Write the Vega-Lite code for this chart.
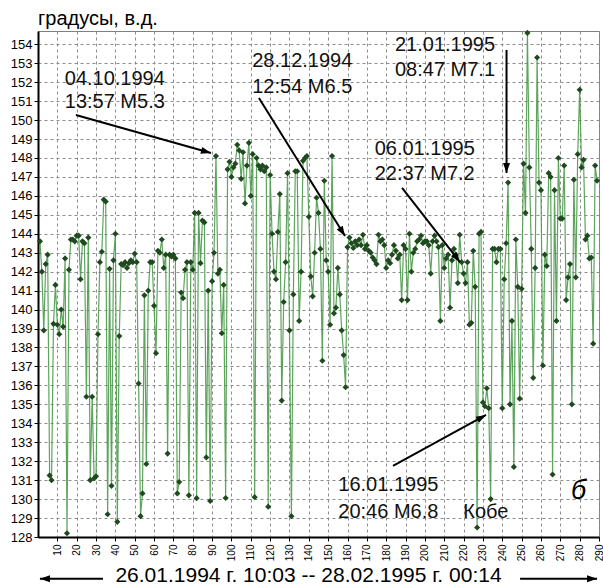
{
  "$schema": "https://vega.github.io/schema/vega-lite/v6.json",
  "width": 561,
  "height": 506,
  "autosize": {"type": "none"},
  "padding": {"left": 38, "top": 31, "right": 4, "bottom": 48},
  "background": "#ffffff",
  "title": {"text": "градусы, в.д.", "anchor": "start", "frame": "group", "fontSize": 20, "fontWeight": "normal", "baseline": "alphabetic", "offset": 4, "dy": 19, "color": "#000000"},
  "datasets": {
    "series": [
      {"x":1,"v":143.6},{"x":2,"v":142.0},{"x":3,"v":138.9},{"x":4,"v":142.4},{"x":5,"v":142.9},{"x":6,"v":131.25},{"x":7,"v":131.0},{"x":8,"v":139.25},{"x":9,"v":141.3},{"x":10,"v":139.2},
      {"x":11,"v":138.7},{"x":12,"v":140.0},{"x":13,"v":139.1},{"x":14,"v":142.7},{"x":15,"v":128.2},{"x":16,"v":142.1},{"x":17,"v":143.7},{"x":18,"v":143.7},{"x":19,"v":143.6},{"x":20,"v":143.9},
      {"x":21,"v":143.9},{"x":22,"v":141.6},{"x":23,"v":143.6},{"x":24,"v":143.5},{"x":25,"v":135.4},{"x":26,"v":143.8},{"x":27,"v":131.0},{"x":28,"v":135.4},{"x":29,"v":131.1},{"x":30,"v":131.2},
      {"x":31,"v":138.7},{"x":32,"v":142.5},{"x":33,"v":143.05},{"x":34,"v":145.8},{"x":35,"v":145.7},{"x":36,"v":129.2},{"x":37,"v":142.15},{"x":38,"v":130.7},{"x":39,"v":142.6},{"x":40,"v":144.0},
      {"x":41,"v":128.8},{"x":42,"v":138.6},{"x":43,"v":142.4},{"x":44,"v":142.35},{"x":45,"v":142.5},{"x":46,"v":142.2},{"x":47,"v":142.45},{"x":48,"v":142.6},{"x":49,"v":142.5},{"x":50,"v":142.95},
      {"x":51,"v":142.5},{"x":52,"v":136.1},{"x":53,"v":129.1},{"x":54,"v":130.3},{"x":55,"v":140.75},{"x":56,"v":131.85},{"x":57,"v":141.0},{"x":58,"v":142.5},{"x":59,"v":142.5},{"x":60,"v":140.2},
      {"x":61,"v":137.7},{"x":62,"v":143.1},{"x":63,"v":143.0},{"x":64,"v":143.7},{"x":65,"v":142.2},{"x":66,"v":142.9},{"x":67,"v":132.4},{"x":68,"v":142.9},{"x":69,"v":142.8},{"x":70,"v":142.9},
      {"x":71,"v":142.7},{"x":72,"v":130.3},{"x":73,"v":130.9},{"x":74,"v":140.9},{"x":75,"v":140.6},{"x":76,"v":142.1},{"x":77,"v":142.5},{"x":78,"v":130.2},{"x":79,"v":142.5},{"x":80,"v":142.1},
      {"x":81,"v":145.1},{"x":82,"v":130.05},{"x":83,"v":145.1},{"x":84,"v":142.45},{"x":85,"v":144.7},{"x":86,"v":144.6},{"x":87,"v":132.2},{"x":88,"v":141.0},{"x":89,"v":129.9},{"x":90,"v":141.5},
      {"x":91,"v":143.0},{"x":92,"v":148.1},{"x":93,"v":141.9},{"x":94,"v":142.1},{"x":95,"v":138.75},{"x":96,"v":141.3},{"x":97,"v":130.06},{"x":98,"v":147.4},{"x":99,"v":147.8},{"x":100,"v":147.0},
      {"x":101,"v":147.5},{"x":102,"v":147.7},{"x":103,"v":148.7},{"x":104,"v":148.4},{"x":105,"v":146.9},{"x":106,"v":148.3},{"x":107,"v":145.6},{"x":108,"v":147.6},{"x":109,"v":148.8},{"x":110,"v":146.0},
      {"x":111,"v":148.2},{"x":112,"v":130.1},{"x":113,"v":148.0},{"x":114,"v":147.6},{"x":115,"v":147.4},{"x":116,"v":147.6},{"x":117,"v":147.3},{"x":118,"v":147.5},{"x":119,"v":129.6},{"x":120,"v":147.1},
      {"x":121,"v":144.0},{"x":122,"v":142.0},{"x":123,"v":141.6},{"x":124,"v":144.1},{"x":125,"v":146.1},{"x":126,"v":135.2},{"x":127,"v":140.4},{"x":128,"v":142.5},{"x":129,"v":147.2},{"x":130,"v":138.9},
      {"x":131,"v":129.1},{"x":132,"v":140.8},{"x":133,"v":147.3},{"x":134,"v":147.3},{"x":135,"v":139.4},{"x":136,"v":142.0},{"x":137,"v":147.85},{"x":138,"v":148.0},{"x":139,"v":148.1},{"x":140,"v":144.9},
      {"x":141,"v":141.75},{"x":142,"v":140.7},{"x":143,"v":143.0},{"x":144,"v":145.9},{"x":145,"v":145.1},{"x":146,"v":143.2},{"x":147,"v":137.3},{"x":148,"v":146.8},{"x":149,"v":142.6},{"x":150,"v":142.0},
      {"x":151,"v":139.2},{"x":152,"v":148.1},{"x":153,"v":139.8},{"x":154,"v":140.1},{"x":155,"v":142.2},{"x":156,"v":140.8},{"x":157,"v":138.9},{"x":158,"v":137.6},{"x":159,"v":135.9},{"x":160,"v":143.3},
      {"x":161,"v":143.8},{"x":162,"v":143.5},{"x":163,"v":143.25},{"x":164,"v":143.6},{"x":165,"v":143.4},{"x":166,"v":143.7},{"x":167,"v":143.4},{"x":168,"v":143.95},{"x":169,"v":143.2},{"x":170,"v":143.4},
      {"x":171,"v":143.1},{"x":172,"v":143.0},{"x":173,"v":142.75},{"x":174,"v":142.6},{"x":175,"v":142.4},{"x":176,"v":143.95},{"x":177,"v":143.6},{"x":178,"v":143.7},{"x":179,"v":143.4},{"x":180,"v":142.2},
      {"x":181,"v":142.6},{"x":182,"v":142.45},{"x":183,"v":142.9},{"x":184,"v":143.4},{"x":185,"v":143.1},{"x":186,"v":142.7},{"x":187,"v":142.9},{"x":188,"v":140.5},{"x":189,"v":143.4},{"x":190,"v":143.2},
      {"x":191,"v":140.5},{"x":192,"v":144.0},{"x":193,"v":142.0},{"x":194,"v":143.0},{"x":195,"v":143.2},{"x":196,"v":143.6},{"x":197,"v":143.7},{"x":198,"v":143.9},{"x":199,"v":143.5},{"x":200,"v":143.6},
      {"x":201,"v":143.6},{"x":202,"v":143.4},{"x":203,"v":141.9},{"x":204,"v":143.6},{"x":205,"v":143.9},{"x":206,"v":143.6},{"x":207,"v":143.3},{"x":208,"v":139.4},{"x":209,"v":143.4},{"x":210,"v":142.2},
      {"x":211,"v":142.7},{"x":212,"v":142.9},{"x":213,"v":140.1},{"x":214,"v":142.6},{"x":215,"v":143.2},{"x":216,"v":142.9},{"x":217,"v":141.4},{"x":218,"v":143.95},{"x":219,"v":142.5},{"x":220,"v":141.9},
      {"x":221,"v":141.4},{"x":222,"v":142.5},{"x":223,"v":139.2},{"x":224,"v":139.3},{"x":225,"v":143.1},{"x":226,"v":141.2},{"x":227,"v":128.5},{"x":228,"v":144.0},{"x":229,"v":144.1},{"x":230,"v":135.1},
      {"x":231,"v":134.9},{"x":232,"v":135.85},{"x":233,"v":134.8},{"x":234,"v":130.0},{"x":235,"v":143.2},{"x":236,"v":143.2},{"x":237,"v":142.5},{"x":238,"v":143.2},{"x":239,"v":143.2},{"x":240,"v":134.8},
      {"x":241,"v":141.6},{"x":242,"v":143.5},{"x":243,"v":146.7},{"x":244,"v":135.0},{"x":245,"v":139.4},{"x":246,"v":131.7},{"x":247,"v":143.7},{"x":248,"v":141.2},{"x":249,"v":135.3},{"x":250,"v":141.1},
      {"x":251,"v":147.7},{"x":252,"v":145.1},{"x":253,"v":154.6},{"x":254,"v":147.5},{"x":255,"v":143.2},{"x":256,"v":136.4},{"x":257,"v":142.2},{"x":258,"v":153.3},{"x":259,"v":146.7},{"x":260,"v":146.3},
      {"x":261,"v":137.05},{"x":262,"v":142.9},{"x":263,"v":142.3},{"x":264,"v":147.2},{"x":265,"v":147.0},{"x":266,"v":131.3},{"x":267,"v":146.3},{"x":268,"v":139.4},{"x":269,"v":148.0},{"x":270,"v":144.8},
      {"x":271,"v":144.8},{"x":272,"v":147.6},{"x":273,"v":140.5},{"x":274,"v":141.7},{"x":275,"v":142.4},{"x":276,"v":135.0},{"x":277,"v":146.85},{"x":278,"v":141.7},{"x":279,"v":148.2},{"x":280,"v":151.6},
      {"x":281,"v":147.5},{"x":282,"v":147.9},{"x":283,"v":143.7},{"x":284,"v":143.9},{"x":285,"v":142.7},{"x":286,"v":142.75},{"x":287,"v":138.2},{"x":288,"v":147.6},{"x":289,"v":146.8}
    ],
    "notes": [
      {"x":39.7,"y":152.19,"t":"04.10.1994"},
      {"x":39.7,"y":150.93,"t":"13:57 M5.3"},
      {"x":136.6,"y":153.12,"t":"28.12.1994"},
      {"x":136.6,"y":151.75,"t":"12:54 M6.5"},
      {"x":210.4,"y":153.96,"t":"21.01.1995"},
      {"x":210.4,"y":152.64,"t":"08:47 M7.1"},
      {"x":199.9,"y":148.45,"t":"06.01.1995"},
      {"x":199.9,"y":147.13,"t":"22:37 M7.2"},
      {"x":181.1,"y":130.74,"t":"16.01.1995"},
      {"x":181.1,"y":129.32,"t":"20:46 M6.8"},
      {"x":231.5,"y":129.32,"t":"Кобе"}
    ],
    "arrows": [
      {"id":1,"x0":19.6,"y0":150.27,"x1":89.4,"y1":148.26},
      {"id":2,"x0":114.2,"y0":151.16,"x1":158.7,"y1":143.88},
      {"id":3,"x0":242.2,"y0":153.7,"x1":242.2,"y1":147.21},
      {"id":4,"x0":188.2,"y0":146.42,"x1":218.1,"y1":142.51},
      {"id":5,"x0":183.5,"y0":131.75,"x1":231.6,"y1":134.44},
      {"id":6,"x0":33.6,"y0":125.8,"x1":1.0,"y1":125.8},
      {"id":7,"x0":249.2,"y0":125.8,"x1":289.0,"y1":125.8}
    ]
  },
  "encoding": {
    "x": {"type": "quantitative", "scale": {"domain": [0, 290], "nice": false, "zero": false}, "axis": {
      "values": [10,20,30,40,50,60,70,80,90,100,110,120,130,140,150,160,170,180,190,200,210,220,230,240,250,260,270,280,290],
      "labelAngle": -90, "labelFontSize": 10, "labelPadding": 3, "labelFlush": false, "labelOverlap": false,
      "tickSize": 4,
      "title": "26.01.1994 г. 10:03 -- 28.02.1995 г. 00:14",
      "titleFontSize": 21, "titleFontWeight": "normal", "titleX": 270, "titleY": 38,
      "titleAlign": "center", "titleBaseline": "middle", "titleAngle": 0
    }},
    "y": {"type": "quantitative", "scale": {"domain": [128, 154.7], "nice": false, "zero": false}, "axis": {
      "values": [128,129,130,131,132,133,134,135,136,137,138,139,140,141,142,143,144,145,146,147,148,149,150,151,152,153,154],
      "labelFontSize": 13, "labelPadding": 2, "labelFlush": false, "labelOverlap": false, "tickSize": 4, "title": null
    }}
  },
  "layer": [
    {
      "data": {"name": "series"},
      "mark": {"type": "line", "color": "#4b9a4b", "strokeWidth": 1.2, "opacity": 0.9},
      "encoding": {"x": {"field": "x", "type": "quantitative"}, "y": {"field": "v", "type": "quantitative"}}
    },
    {
      "data": {"name": "series"},
      "mark": {"type": "point", "shape": "diamond", "filled": true, "color": "#1f4a1f", "size": 38, "opacity": 1},
      "encoding": {"x": {"field": "x", "type": "quantitative"}, "y": {"field": "v", "type": "quantitative"}}
    },
    {
      "data": {"name": "arrows"},
      "mark": {"type": "rule", "color": "#000000", "strokeWidth": 2, "clip": false},
      "encoding": {
        "x": {"field": "x0", "type": "quantitative"}, "y": {"field": "y0", "type": "quantitative"},
        "x2": {"field": "x1"}, "y2": {"field": "y1"}
      }
    },
    {
      "data": {"name": "arrows"},
      "transform": [{"filter": "datum.id == 1"}],
      "mark": {"type": "point", "shape": "M0,0 L0.7,2 L-0.7,2 Z", "filled": true, "color": "#000000", "size": 100, "opacity": 1, "angle": 105.7, "clip": false},
      "encoding": {"x": {"field": "x1", "type": "quantitative"}, "y": {"field": "y1", "type": "quantitative"}}
    },
    {
      "data": {"name": "arrows"},
      "transform": [{"filter": "datum.id == 2"}],
      "mark": {"type": "point", "shape": "M0,0 L0.7,2 L-0.7,2 Z", "filled": true, "color": "#000000", "size": 100, "opacity": 1, "angle": 148.1, "clip": false},
      "encoding": {"x": {"field": "x1", "type": "quantitative"}, "y": {"field": "y1", "type": "quantitative"}}
    },
    {
      "data": {"name": "arrows"},
      "transform": [{"filter": "datum.id == 3"}],
      "mark": {"type": "point", "shape": "M0,0 L0.7,2 L-0.7,2 Z", "filled": true, "color": "#000000", "size": 100, "opacity": 1, "angle": 180, "clip": false},
      "encoding": {"x": {"field": "x1", "type": "quantitative"}, "y": {"field": "y1", "type": "quantitative"}}
    },
    {
      "data": {"name": "arrows"},
      "transform": [{"filter": "datum.id == 4"}],
      "mark": {"type": "point", "shape": "M0,0 L0.7,2 L-0.7,2 Z", "filled": true, "color": "#000000", "size": 100, "opacity": 1, "angle": 141.9, "clip": false},
      "encoding": {"x": {"field": "x1", "type": "quantitative"}, "y": {"field": "y1", "type": "quantitative"}}
    },
    {
      "data": {"name": "arrows"},
      "transform": [{"filter": "datum.id == 5"}],
      "mark": {"type": "point", "shape": "M0,0 L0.7,2 L-0.7,2 Z", "filled": true, "color": "#000000", "size": 100, "opacity": 1, "angle": 61.3, "clip": false},
      "encoding": {"x": {"field": "x1", "type": "quantitative"}, "y": {"field": "y1", "type": "quantitative"}}
    },
    {
      "data": {"name": "arrows"},
      "transform": [{"filter": "datum.id == 6"}],
      "mark": {"type": "point", "shape": "M0,0 L0.7,2 L-0.7,2 Z", "filled": true, "color": "#000000", "size": 100, "opacity": 1, "angle": 270, "clip": false},
      "encoding": {"x": {"field": "x1", "type": "quantitative"}, "y": {"field": "y1", "type": "quantitative"}}
    },
    {
      "data": {"name": "arrows"},
      "transform": [{"filter": "datum.id == 7"}],
      "mark": {"type": "point", "shape": "M0,0 L0.7,2 L-0.7,2 Z", "filled": true, "color": "#000000", "size": 100, "opacity": 1, "angle": 90, "clip": false},
      "encoding": {"x": {"field": "x1", "type": "quantitative"}, "y": {"field": "y1", "type": "quantitative"}}
    },
    {
      "data": {"name": "notes"},
      "mark": {"type": "text", "fontSize": 20, "align": "center", "baseline": "middle", "color": "#111111"},
      "encoding": {"x": {"field": "x", "type": "quantitative"}, "y": {"field": "y", "type": "quantitative"}, "text": {"field": "t"}}
    },
    {
      "data": {"values": [{"x": 279.4, "y": 130.43, "t": "б"}]},
      "mark": {"type": "text", "fontSize": 27, "fontStyle": "italic", "align": "center", "baseline": "middle", "color": "#000000"},
      "encoding": {"x": {"field": "x", "type": "quantitative"}, "y": {"field": "y", "type": "quantitative"}, "text": {"field": "t"}}
    }
  ],
  "config": {
    "font": "Liberation Sans",
    "view": {"stroke": "#808080", "strokeWidth": 1},
    "axis": {
      "domainColor": "#000000", "domainWidth": 2, "tickColor": "#000000", "labelColor": "#000000", "titleColor": "#000000",
      "grid": true, "gridColor": "#8c8c8c", "gridDash": [3, 3], "gridWidth": 1, "gridOpacity": 1
    },
    "text": {"font": "Liberation Sans"}
  }
}
